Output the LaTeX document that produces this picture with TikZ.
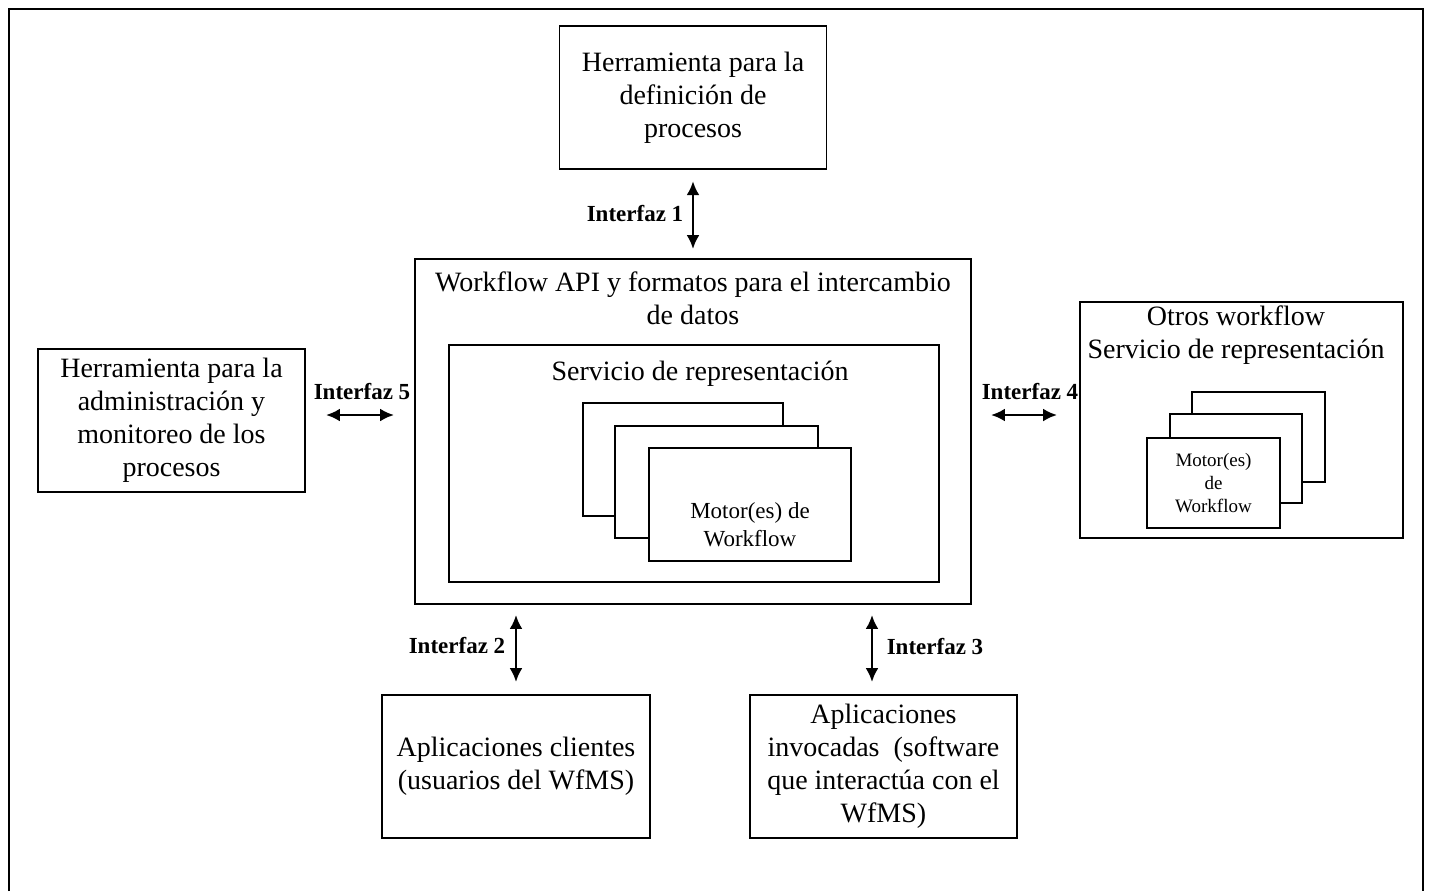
\documentclass[tikz,border=0pt]{standalone}
\usepackage{fontspec}
\setmainfont{Liberation Serif}
\usetikzlibrary{arrows.meta, positioning}

\tikzset{
	blk/.style={draw, line width=0.9pt, inner sep=0pt, align=center, font=\fontsize{14}{16.5}\selectfont},
	txt/.style={inner sep=0pt, align=center, font=\fontsize{14}{16.5}\selectfont},
	mot/.style={draw, line width=0.8pt, fill=white, inner sep=0pt, align=center},
	iface/.style={inner sep=0pt, font=\bfseries\fontsize{11.5}{13}\selectfont},
	biarr/.style={{Latex[length=7pt,width=6.5pt]}-{Latex[length=7pt,width=6.5pt]}, line width=1.4pt},
}

\begin{document}
\begin{tikzpicture}[x=0.5pt, y=-0.5pt]
		\useasboundingbox (0,0) rectangle (1430,891);
		\draw[line width=1pt] (9,891) -- (9,9) -- (1423,9) -- (1423,891);

		% central block
		\node[blk, minimum width=278pt, minimum height=172.5pt] (api) at (693,431.5) {};
		\node[txt] (apit) at (693,298) {Workflow API y formatos para el intercambio\\de datos};
		\node[blk, minimum width=245pt, minimum height=118.5pt] (srv) at (694,463.5) {};
		\node[txt] (srvt) at (700,374) {Servicio de representación};
		\node[mot, minimum width=100pt, minimum height=56.5pt] (m1) at (683,459.5) {};
		\node[mot, minimum width=101.5pt, minimum height=56pt] (m2) at (716.5,482) {};
		\node[mot, minimum width=101pt, minimum height=56.5pt] (m3) at (750,504.5) {};
		\node[txt, font=\fontsize{11.5}{14}\selectfont] (m3t) at (750,525) {Motor(es) de\\Workflow};

		% outer blocks
		\node[blk, minimum width=133.5pt, minimum height=71.5pt, above = 44pt of api] (def) {Herramienta para la\\definición de\\procesos};
		\node[blk, minimum width=133.5pt, minimum height=71.5pt] (adm) at (171.5,420.5) {Herramienta para la\\administración y\\monitoreo de los\\procesos};
		\node[blk, minimum width=134pt, minimum height=71.5pt] (cli) at (516,766.5) {Aplicaciones clientes\\(usuarios del WfMS)};
		\node[blk, minimum width=133.5pt, minimum height=71.5pt] (inv) at (883.5,766.5) {Aplicaciones\\invocadas~ (software\\que interactúa con el\\WfMS)};

		% other workflow
		\node[blk, minimum width=161.5pt, minimum height=118pt] (otr) at (1241.5,420) {};
		\node[txt] (otrt) at (1236,335.5) {Otros workflow\\Servicio de representación};
		\node[mot, minimum width=66.5pt, minimum height=45pt] (o1) at (1258.5,437) {};
		\node[mot, minimum width=66pt, minimum height=44.5pt] (o2) at (1236,458.5) {};
		\node[mot, minimum width=66.5pt, minimum height=45pt, font=\fontsize{9.5}{11.3}\selectfont] (o3) at (1213.5,483) {Motor(es)\\de\\Workflow};

		% interfaces
		\draw[biarr, shorten <=5.5pt, shorten >=4.5pt] (def.south) -- (def.south |- api.north);
		\draw[biarr, shorten <=10pt, shorten >=10pt] ([yshift=2.75pt]adm.east) -- ([yshift=2.75pt]adm.east -| api.west);
		\draw[biarr, shorten <=9.5pt, shorten >=11pt] ([yshift=2.5pt]otr.west -| api.east) -- ([yshift=2.5pt]otr.west);
		\draw[biarr, shorten <=5pt, shorten >=6pt] (cli.north |- api.south) -- (cli.north);
		\draw[biarr, shorten <=5pt, shorten >=6pt] ([xshift=-5.75pt]inv.north |- api.south) -- ([xshift=-5.75pt]inv.north);

		\node[iface] (l1) at (635,214) {Interfaz 1};
		\node[iface] (l2) at (457,645) {Interfaz 2};
		\node[iface] (l3) at (935,646) {Interfaz 3};
		\node[iface] (l4) at (1030,392) {Interfaz 4};
		\node[iface] (l5) at (362,392) {Interfaz 5};
\end{tikzpicture}
\end{document}
